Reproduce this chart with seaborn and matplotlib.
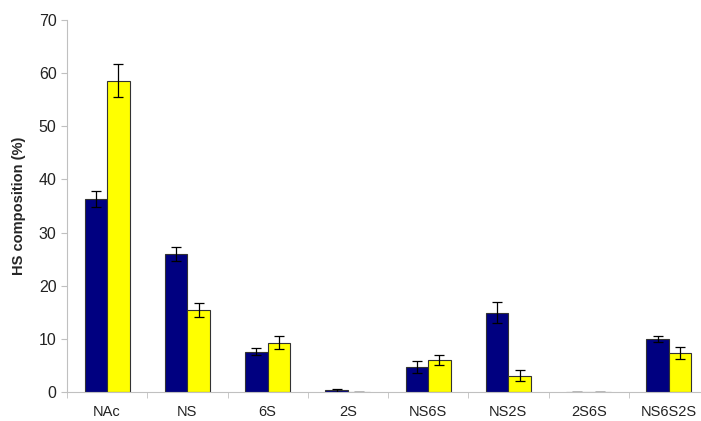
import numpy as np
import pandas as pd
import seaborn as sns
import matplotlib.pyplot as plt

# HS disaccharide composition, two samples
categories = ["NAc", "NS", "6S", "2S", "NS6S", "NS2S", "2S6S", "NS6S2S"]
series_a = [36.4, 26.0, 7.6, 0.3, 4.7, 14.9, 0.0, 10.0]
series_a_err = [1.5, 1.3, 0.7, 0.3, 1.2, 2.0, 0.0, 0.5]
series_b = [58.6, 15.4, 9.3, 0.05, 6.0, 3.1, 0.0, 7.3]
series_b_err = [3.1, 1.3, 1.3, 0.0, 1.0, 1.1, 0.0, 1.1]

df = pd.DataFrame({
    "category": categories * 2,
    "value": series_a + series_b,
    "err": series_a_err + series_b_err,
    "series": ["A"] * len(categories) + ["B"] * len(categories),
})

sns.set_style("white")
plt.rcParams["font.family"] = ["Liberation Sans", "DejaVu Sans"]

fig = plt.figure(figsize=(7.01, 4.21), dpi=100)
ax = fig.add_axes([67 / 701, 29 / 421, 642 / 701, 372 / 421])

sns.barplot(
    data=df, x="category", y="value", hue="series",
    palette=["#000080", "#FFFF00"], saturation=1, width=0.56, gap=0,
    errorbar=None, edgecolor="#333333", linewidth=0.8,
    legend=False, ax=ax,
)

# error bars at the bar centres
bars = [p for p in ax.patches if p.get_width() > 0]
errs = series_a_err + series_b_err
xs = [p.get_x() + p.get_width() / 2 for p in bars]
hs = [p.get_height() for p in bars]
ax.errorbar(xs, hs, yerr=errs, fmt="none", ecolor="black",
            elinewidth=0.9, capsize=3.6, capthick=0.9)

ax.set_ylim(0, 70)
ax.set_xlim(-0.5, len(categories) - 0.5)
ax.set_yticks(range(0, 71, 10))
ax.set_xlabel("")
ax.set_ylabel("HS composition (%)", fontsize=10.5, fontweight="bold", labelpad=9)

ax.tick_params(axis="y", labelsize=11.5, length=4, color="#c0c0c0", direction="out",
               left=True, labelcolor="#222222")
ax.tick_params(axis="x", which="major", labelsize=10.5, length=0, pad=9,
               labelcolor="#222222")
ax.set_xticks(np.arange(-0.5, len(categories), 1), minor=True)
ax.tick_params(axis="x", which="minor", length=4, color="#c0c0c0", bottom=True)

for side in ["top", "right"]:
    ax.spines[side].set_visible(False)
ax.spines["left"].set_color("#c0c0c0")
ax.spines["bottom"].set_color("#c0c0c0")

fig.savefig("out.png", dpi=100)
